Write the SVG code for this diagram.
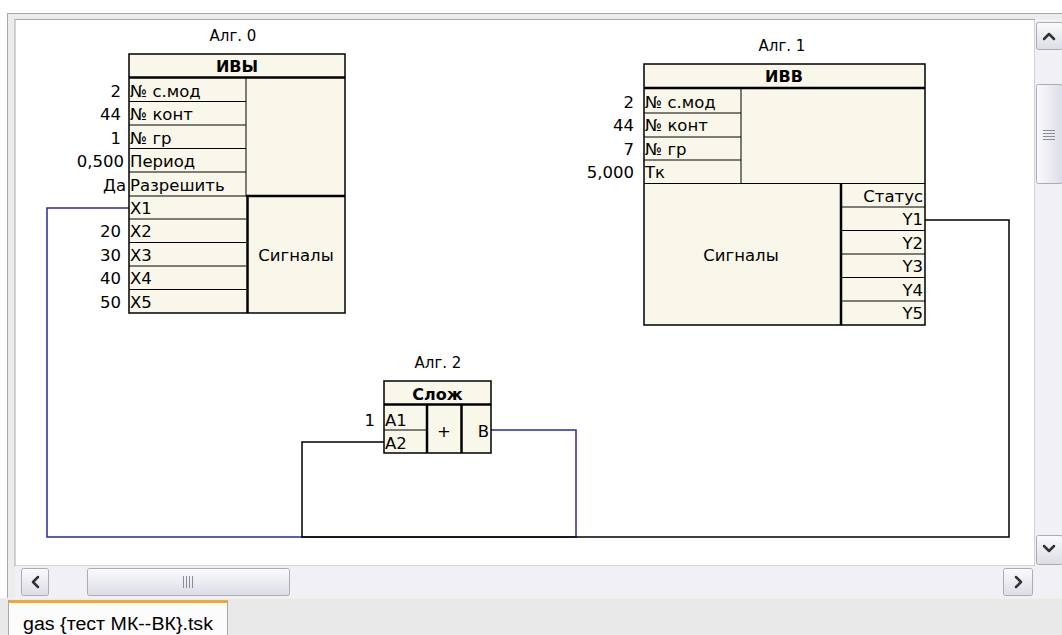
<svg xmlns="http://www.w3.org/2000/svg" width="1062" height="635" viewBox="0 0 1062 635">
<defs>
<style>
text{font-family:"DejaVu Sans","Liberation Sans",sans-serif;font-size:16.5px;fill:#000}
.al{font-size:15px}
.b{font-weight:bold;font-size:16px}
.m{text-anchor:middle}
.e{text-anchor:end}
.box{fill:#f9f7ea;stroke:#000;stroke-width:1.5}
.ln{stroke:#000;stroke-width:1;fill:none}
.tk{stroke:#000;stroke-width:2.5;fill:none}
.blue{stroke:#2a2aa0;stroke-width:1.5;fill:none}
.blk{stroke:#000;stroke-width:1.5;fill:none}
.btn{fill:url(#g);stroke:#a9abb8;stroke-width:1}
.arr{stroke:#333;stroke-width:2.5;fill:none;stroke-linecap:round;stroke-linejoin:round}
.grip{stroke:#8a8c98;stroke-width:1}
</style>
<linearGradient id="g" x1="0" y1="0" x2="0" y2="1">
<stop offset="0" stop-color="#fbfbfd"/>
<stop offset="1" stop-color="#dcdde6"/>
</linearGradient>
<linearGradient id="gv" x1="0" y1="0" x2="1" y2="0">
<stop offset="0" stop-color="#fbfbfd"/>
<stop offset="1" stop-color="#dcdde6"/>
</linearGradient>
</defs>
<rect x="0" y="0" width="1062" height="635" fill="#ffffff"/>
<!-- window frame -->
<rect x="7.5" y="13.5" width="1060" height="590" fill="#ececec" stroke="#a8a8a8"/>
<rect x="15" y="19.5" width="1020" height="546.5" fill="#ffffff" stroke="#a8a8a8"/>
<!-- vertical scrollbar -->
<rect x="1035" y="19" width="27" height="547" fill="#f1f1f5"/>
<rect x="1036.5" y="22.5" width="26" height="27" rx="2" class="btn"/>
<path d="M1044,39 L1049,34 L1054,39" class="arr"/>
<rect x="1036.5" y="84.5" width="26" height="99" rx="2" style="fill:url(#gv);stroke:#a9abb8"/>
<path d="M1043,130.5 H1055 M1043,133.5 H1055 M1043,136.5 H1055 M1043,139.5 H1055" class="grip"/>
<rect x="1036.5" y="535.5" width="26" height="29" rx="2" class="btn"/>
<path d="M1044,546 L1049,551 L1054,546" class="arr"/>
<!-- horizontal scrollbar -->
<rect x="15" y="566" width="1047" height="32" fill="#f1f1f5"/>
<rect x="21.5" y="568.5" width="27" height="27" rx="2" class="btn"/>
<path d="M38,577 L33,582 L38,587" class="arr"/>
<rect x="87.5" y="568.5" width="202" height="27" rx="2" class="btn"/>
<path d="M183.5,576 V588 M186.5,576 V588 M189.5,576 V588 M192.5,576 V588" class="grip"/>
<rect x="1003.5" y="568.5" width="29" height="27" rx="2" class="btn"/>
<path d="M1016,577 L1021,582 L1016,587" class="arr"/>
<line x1="0" y1="598.5" x2="1062" y2="598.5" stroke="#f4f2dc" stroke-width="1.5"/>
<rect x="0" y="599" width="1062" height="36" fill="#e9e9e9"/>
<!-- tab -->
<rect x="8.5" y="600.5" width="219" height="36" fill="#fcfcfc" stroke="#a8a8a8"/>
<rect x="9" y="600" width="218" height="3" fill="#f2a634"/>
<text x="23" y="630" textLength="190" lengthAdjust="spacingAndGlyphs" style="font-family:'Liberation Sans',sans-serif;font-size:18px">gas {тест МК--ВК}.tsk</text>

<!-- connectors -->
<g id="connectors">
<path class="blue" d="M129,208 H47 V537 H576 V430 H491"/>
<path class="blk" d="M925,220 H1009 V537 H302 V442 H384"/>
</g>

<!-- Alg 0 -->
<g id="alg0">
<text x="233" y="41" class="m al">Алг. 0</text>
<rect class="box" x="129" y="54" width="216" height="259"/>
<line class="tk" x1="129" y1="77.5" x2="345" y2="77.5"/>
<text x="237" y="72" class="m b">ИВЫ</text>
<path class="ln" d="M129,101.5 H246 M129,125 H246 M129,148.5 H246 M129,172 H246 M129,196 H246 M129,219 H246 M129,242.5 H246 M129,266 H246 M129,289.5 H246 M246,78 V196"/>
<line class="tk" x1="246" y1="196" x2="345" y2="196"/>
<line class="tk" x1="247.5" y1="196" x2="247.5" y2="313"/>
<text x="130" y="97">№ с.мод</text>
<text x="130" y="120">№ конт</text>
<text x="130" y="144">№ гр</text>
<text x="130" y="167">Период</text>
<text x="130" y="191">Разрешить</text>
<text x="130" y="214">X1</text>
<text x="130" y="237">X2</text>
<text x="130" y="261">X3</text>
<text x="130" y="284">X4</text>
<text x="130" y="308">X5</text>
<text x="296" y="261" class="m">Сигналы</text>
<text x="121" y="97" class="e">2</text>
<text x="121" y="120" class="e">44</text>
<text x="121" y="144" class="e">1</text>
<text x="124" y="167" class="e">0,500</text>
<text x="126" y="191" class="e">Да</text>
<text x="121" y="237" class="e">20</text>
<text x="121" y="261" class="e">30</text>
<text x="121" y="284" class="e">40</text>
<text x="121" y="308" class="e">50</text>
</g>

<!-- Alg 1 -->
<g id="alg1">
<text x="782" y="51" class="m al">Алг. 1</text>
<rect class="box" x="644" y="64" width="281" height="261"/>
<line class="tk" x1="644" y1="88" x2="925" y2="88"/>
<text x="784" y="82" class="m b">ИВВ</text>
<path class="ln" d="M644,113 H741 M644,137 H741 M644,160 H741 M741,88 V183 M644,183.5 H925 M842,207 H925 M842,230.5 H925 M842,254 H925 M842,277.5 H925 M842,301 H925"/>
<line class="tk" x1="841" y1="183" x2="841" y2="325"/>
<text x="645" y="108">№ с.мод</text>
<text x="645" y="131">№ конт</text>
<text x="645" y="155">№ гр</text>
<text x="645" y="178">Тк</text>
<text x="741" y="261" class="m">Сигналы</text>
<text x="923" y="202" class="e">Статус</text>
<text x="923" y="225" class="e">Y1</text>
<text x="923" y="249" class="e">Y2</text>
<text x="923" y="272" class="e">Y3</text>
<text x="923" y="296" class="e">Y4</text>
<text x="923" y="319" class="e">Y5</text>
<text x="634" y="108" class="e">2</text>
<text x="634" y="131" class="e">44</text>
<text x="634" y="155" class="e">7</text>
<text x="634" y="178" class="e">5,000</text>
</g>

<!-- Alg 2 -->
<g id="alg2">
<text x="438" y="368" class="m al">Алг. 2</text>
<rect class="box" x="384" y="381" width="107" height="72"/>
<line class="tk" x1="384" y1="404.5" x2="491" y2="404.5"/>
<text x="437.5" y="400" class="m b">Слож</text>
<path class="ln" d="M384,430 H427"/>
<line class="tk" x1="427" y1="404" x2="427" y2="453"/>
<line class="tk" x1="461.5" y1="404" x2="461.5" y2="453"/>
<text x="385" y="426">А1</text>
<text x="385" y="449">А2</text>
<text x="444" y="437" class="m">+</text>
<text x="489" y="437" class="e">В</text>
<text x="375" y="426" class="e">1</text>
</g>
</svg>
